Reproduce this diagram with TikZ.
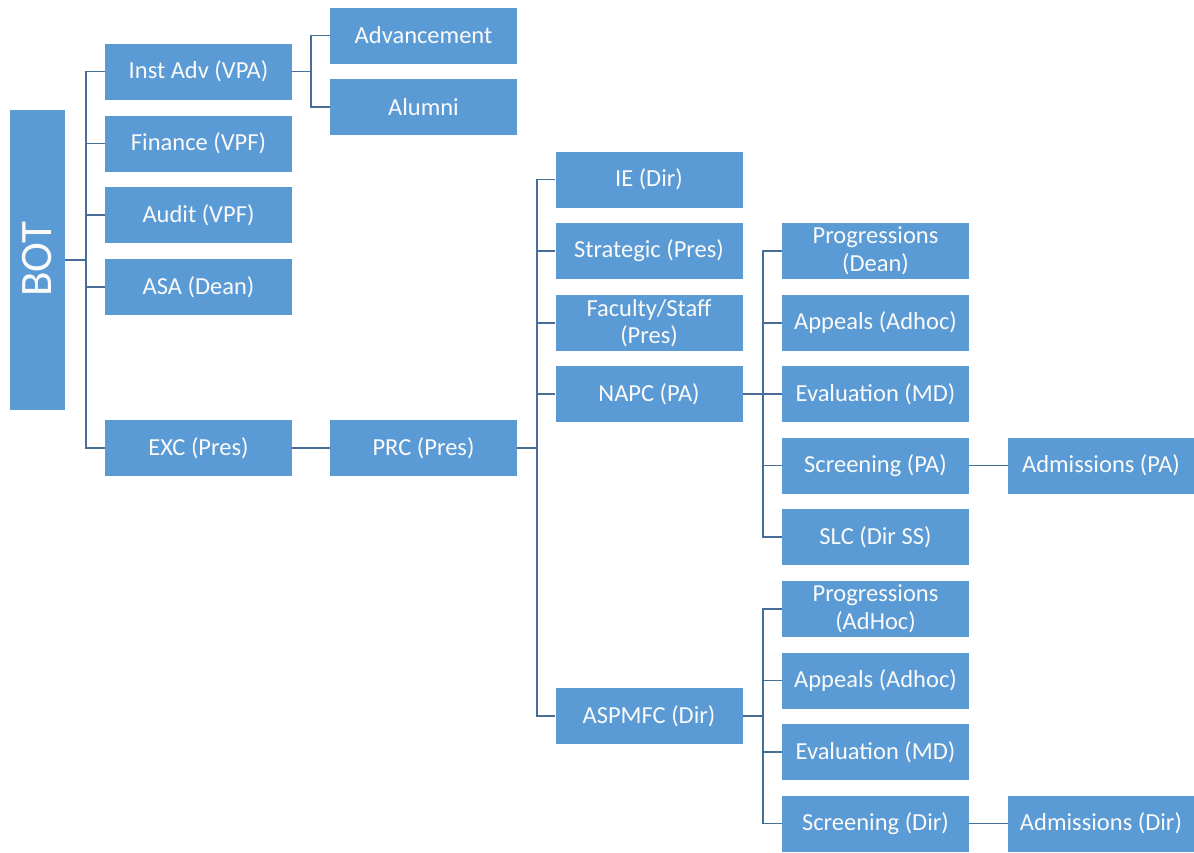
\documentclass[tikz,border=0pt]{standalone}
\usepackage{fontspec}
\setmainfont{Carlito}
\definecolor{boxblue}{RGB}{91,155,213}
\definecolor{linecol}{RGB}{70,110,150}
\definecolor{txt}{RGB}{250,250,250}
\begin{document}
\begin{tikzpicture}[x=1pt,y=-1pt,
  box/.style={fill=boxblue,draw=none,minimum width=187pt,minimum height=56pt,inner sep=0pt,
    text=txt,align=center,font=\fontsize{24.5}{27.5}\selectfont},
  conn/.style={draw=linecol,line width=1.1pt}]
\useasboundingbox (0,0) rectangle (1194,852);
% BOT
\node[box,minimum width=55pt,minimum height=300pt] (bot) at (37.5,260) {};
\node[text=txt,rotate=90,font=\fontsize{45}{45}\selectfont,inner sep=0pt] (bottxt) at (37.5,259) {BOT};
% column 1
\node[box] (inst) at (198.5,71.5) {Inst Adv (VPA)};
\node[box] (fin) at (198.5,143.5) {Finance (VPF)};
\node[box] (aud) at (198.5,215) {Audit (VPF)};
\node[box] (asa) at (198.5,287) {ASA (Dean)};
\node[box] (exc) at (198.5,448) {EXC (Pres)};
% column 2
\node[box] (adv) at (423.5,35.5) {Advancement};
\node[box] (alu) at (423.5,107) {Alumni};
\node[box] (prc) at (423.5,448) {PRC (Pres)};
% column 3
\node[box] (ie) at (649,179.5) {IE (Dir)};
\node[box] (str) at (649,251) {Strategic (Pres)};
\node[box] (fac) at (649,323) {Faculty/Staff\\(Pres)};
\node[box] (napc) at (649,394) {NAPC (PA)};
\node[box] (asp) at (649,716) {ASPMFC (Dir)};
% column 4
\node[box] (prog) at (875.5,251) {Progressions\\(Dean)};
\node[box] (app) at (875.5,323) {Appeals (Adhoc)};
\node[box] (eva) at (875.5,394) {Evaluation (MD)};
\node[box] (scr) at (875.5,465.5) {Screening (PA)};
\node[box] (slc) at (875.5,537) {SLC (Dir SS)};
\node[box] (prog2) at (875.5,609) {Progressions\\(AdHoc)};
\node[box] (app2) at (875.5,680.5) {Appeals (Adhoc)};
\node[box] (eva2) at (875.5,752) {Evaluation (MD)};
\node[box] (scr2) at (875.5,823.5) {Screening (Dir)};
% column 5
\node[box,minimum width=186pt] (adm) at (1101,465.5) {Admissions (PA)};
\node[box,minimum width=186pt] (adm2) at (1101,823.5) {Admissions (Dir)};
% bus points
\coordinate (b1) at (86,260);
\coordinate (b2) at (311,71.5);
\coordinate (b3) at (537,448);
\coordinate (b4) at (763,394);
\coordinate (b5) at (763,716);
% connectors
\draw[conn] (bot.east) -- (b1);
\foreach \n in {inst,fin,aud,asa,exc} \draw[conn] (\n.west) -| (b1);
\draw[conn] (inst.east) -- (b2);
\foreach \n in {adv,alu} \draw[conn] (\n.west) -| (b2);
\draw[conn] (exc.east) -- (prc.west);
\draw[conn] (prc.east) -- (b3);
\foreach \n in {ie,str,fac,napc,asp} \draw[conn] (\n.west) -| (b3);
\draw[conn] (napc.east) -- (b4);
\foreach \n in {prog,app,eva,scr,slc} \draw[conn] (\n.west) -| (b4);
\draw[conn] (asp.east) -- (b5);
\foreach \n in {prog2,app2,eva2,scr2} \draw[conn] (\n.west) -| (b5);
\draw[conn] (scr.east) -- (adm.west);
\draw[conn] (scr2.east) -- (adm2.west);
\end{tikzpicture}
\end{document}
